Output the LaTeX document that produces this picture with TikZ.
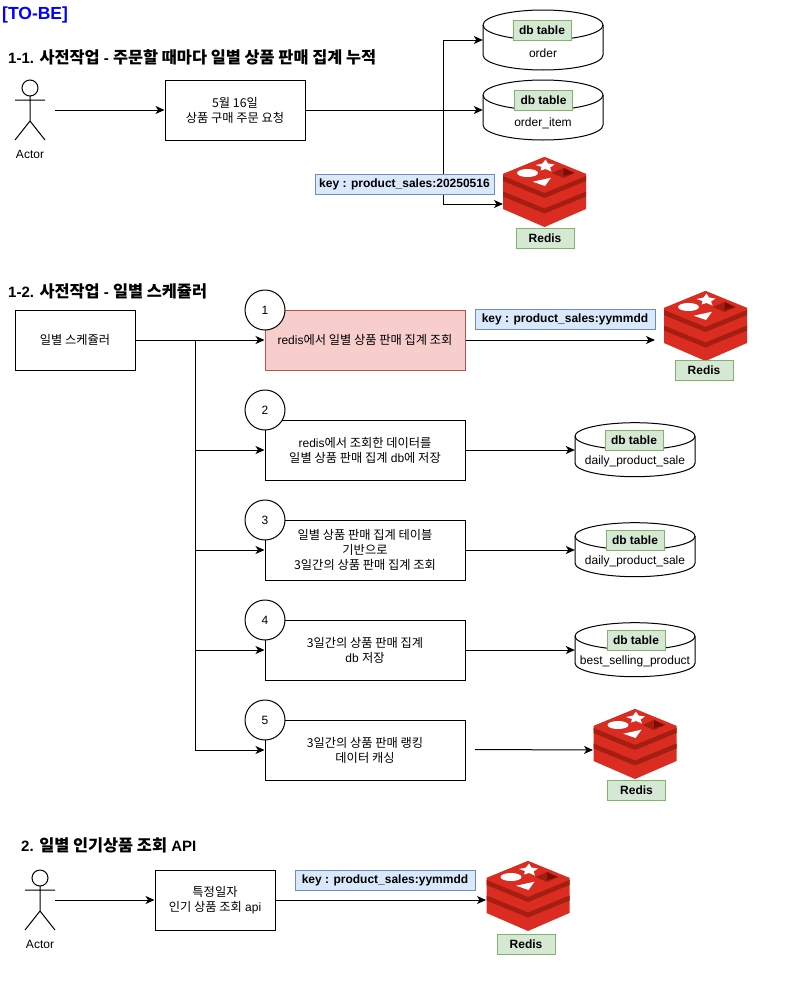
\documentclass[tikz,border=0pt]{standalone}
\usepackage{fontspec}
\setmainfont{Liberation Sans}
\newfontfamily\cjk[Scale=1.02]{Noto Sans CJK KR}
\newfontfamily\cjkhead[Scale=1.09]{Noto Sans CJK KR}
\newcommand{\kr}[1]{{\cjk #1}}
\newcommand{\krhead}[1]{{\cjkhead #1}}
\usetikzlibrary{arrows.meta}

\definecolor{tablefill}{HTML}{D5E8D4}
\definecolor{tableline}{HTML}{82B366}
\definecolor{keyfill}{HTML}{DAE8FC}
\definecolor{keyline}{HTML}{6C8EBF}
\definecolor{hotfill}{HTML}{F8CECC}
\definecolor{hotline}{HTML}{B85450}
\definecolor{redislight}{HTML}{DA2C20}
\definecolor{redisdark}{HTML}{A41E11}
\definecolor{redisdeep}{HTML}{7A0C00}

\tikzset{
    every node/.style={font=\fontsize{12}{15}\selectfont, inner sep=0pt},
    flow/.style={-{Stealth[length=9pt,width=8pt,inset=2.5pt]}, line width=1pt},
    wire/.style={line width=1pt},
    title/.style={anchor=west, font=\fontsize{15}{18}\selectfont\bfseries},
    procbox/.style={draw, line width=1pt, align=center, minimum height=60pt},
    dblabel/.style={draw=tableline, fill=tablefill, line width=1pt, minimum height=20pt, minimum width=58pt, font=\fontsize{12}{15}\selectfont\bfseries},
    keybox/.style={draw=keyline, fill=keyfill, line width=0.8pt, minimum height=20pt, minimum width=180pt, font=\fontsize{12}{15}\selectfont\bfseries},
    stepmark/.style={draw, circle, fill=white, line width=1pt, minimum size=40pt},
    redis/.pic={
        % Solid block, then the dark bands between the slabs
        \fill[redislight] (-41.5,17) -- (0,0) -- (41.5,17) -- (41.5,52) -- (0,70) -- (-41.5,52) -- cycle;
        \foreach \d in {0,15.5} {
            \fill[redisdark] (-41.5,19+\d) -- (0,36+\d) -- (41.5,19+\d) -- (41.5,24+\d) -- (0,41+\d) -- (-41.5,24+\d) -- cycle;
        }
        \fill[redislight] (-41.5,17) -- (0,0) -- (41.5,17) -- (0,34.5) -- cycle;
        % Marks on the top face
        \fill[white] (1,2.5) -- (3.5,6.5) -- (10,7.5) -- (5.5,10.5) -- (7,14.5) -- (1,12) -- (-4,13.5) -- (-3,10) -- (-9,8) -- (-2,6.5) -- cycle;
        \fill[white] (-17,16) ellipse[x radius=10.5pt, y radius=4pt];
        \fill[white] (-11.8,24.7) -- (6.5,20.7) -- (0.5,29) -- cycle;
        \fill[redisdark] (7.3,16) -- (19,11) -- (30.7,16) -- (19,21) -- cycle;
        \fill[redisdeep] (19,11) -- (29,16) -- (19,19) -- cycle;
    },
    stickman/.pic={
        \draw[line width=1pt] (0,-22) circle[radius=8pt];
        \draw[line width=1pt] (0,-14) -- (0,11) (-15,-10) -- (15,-10) (-15,30) -- (0,11) -- (15,30);
    }
}

% #1 name, #2 centre, #3 half height, #4 ellipse height
\newcommand{\dbcyl}[4]{
    \node[minimum width=120pt, minimum height=2*#3 pt] (#1) at (#2) {};
    \draw[line width=1pt, fill=white, shift={(#2)}]
        (-60,-#3+#4) -- (-60,#3-#4) arc[start angle=180, end angle=360, x radius=60pt, y radius=#4 pt]
        -- (60,-#3+#4) arc[start angle=0, end angle=180, x radius=60pt, y radius=#4 pt] -- cycle;
    \draw[line width=1pt, shift={(#2)}] (-60,-#3+#4) arc[start angle=180, end angle=360, x radius=60pt, y radius=#4 pt];
}

\begin{document}
\begin{tikzpicture}[x=1pt, y=-1pt]
    \useasboundingbox (0,0) rectangle (803,985);

    % Titles
    \node[anchor=west, text=blue, font=\fontsize{17.5}{20}\selectfont\bfseries] (tobe) at (2,15) {[TO-BE]};
    \node[title] (title1) at (8,57) {1-1. \krhead{사전작업} - \krhead{주문할 때마다 일별 상품 판매 집계 누적}};
    \node[title] (title2) at (8,291) {1-2. \krhead{사전작업} - \krhead{일별 스케쥴러}};
    \node[title] (title3) at (21,845) {2. \krhead{일별 인기상품 조회} API};

    % 1-1 order request
    \pic at (30,110) {stickman};
    \node (actor1) at (30,154) {Actor};
    \coordinate (actor1out) at (55,110);
    \node[procbox, minimum width=140pt] (request) at (235,110) {\kr{5월 16일}\\\kr{상품 구매 주문 요청}};
    \dbcyl{order}{543,40}{30}{15}
    \node[dblabel] (orderlabel) at (542,30) {db table};
    \node (ordertext) at (543,53) {order};
    \dbcyl{orderitem}{543,110}{30}{15}
    \node[dblabel] (itemlabel) at (543.5,100) {db table};
    \node (itemtext) at (543,123) {order\_item};
    \pic at (544.5,157) {redis};
    \coordinate (redis1) at (503,204);
    \node[dblabel] (redis1label) at (545,238) {Redis};
    \coordinate (branch) at (443,110);

    \draw[flow] (actor1out) -- (request.west |- actor1out);
    \draw[flow] (request.east) -- (orderitem.west);
    \draw[flow] (branch) |- (order.west);
    \draw[flow] (branch) |- (redis1);
    \node[keybox, minimum width=179pt] (key1) at (404.5,184.5) {key : product\_sales:20250516};

    % 1-2 daily scheduler
    \node[procbox, minimum width=120pt] (scheduler) at (75,340) {\kr{일별 스케쥴러}};
    \node[procbox, minimum width=200pt, fill=hotfill, draw=hotline] (step1) at (365,340) {redis\kr{에서 일별 상품 판매 집계 조회}};
    \node[procbox, minimum width=200pt] (step2) at (365,450) {redis\kr{에서 조회한 데이터를}\\\kr{일별 상품 판매 집계} db\kr{에 저장}};
    \node[procbox, minimum width=200pt] (step3) at (365,550) {\kr{일별 상품 판매 집계 테이블}\\\kr{기반으로}\\\kr{3일간의 상품 판매 집계 조회}};
    \node[procbox, minimum width=200pt] (step4) at (365,650) {\kr{3일간의 상품 판매 집계}\\db \kr{저장}};
    \node[procbox, minimum width=200pt] (step5) at (365,750) {\kr{3일간의 상품 판매 랭킹}\\\kr{데이터 캐싱}};

    \coordinate (bus) at (195,340);
    \draw[flow] (scheduler.east) -- (step1.west);
    \foreach \n in {2,3,4,5} {
        \draw[wire] (bus) -- (bus |- step\n.west);
        \draw[flow] (bus |- step\n.west) -- (step\n.west);
    }

    % Step numbers
    \foreach \n/\y in {1/310,2/410,3/520,4/620,5/720} {
        \node[stepmark] (mark\n) at (265,\y) {\n};
    }

    % 1-2 targets
    \node[keybox] (key2) at (565,319.5) {key : product\_sales:yymmdd};
    \pic at (705.5,291) {redis};
    \coordinate (redis2) at (655,340);
    \node[dblabel] (redis2label) at (704,370) {Redis};
    \draw[flow] (step1.east) -- (redis2);

    \dbcyl{daily1}{635,449.7}{27}{13.5}
    \node[dblabel] (daily1label) at (634,440.3) {db table};
    \node (daily1text) at (635,461.5) {daily\_product\_sale};
    \dbcyl{daily2}{635,549.7}{27}{13.5}
    \node[dblabel] (daily2label) at (635,540.3) {db table};
    \node (daily2text) at (635,561.5) {daily\_product\_sale};
    \dbcyl{best}{635,649.7}{27}{13.5}
    \node[dblabel] (bestlabel) at (636,640) {db table};
    \node (besttext) at (635,661.5) {best\_selling\_product};
    \draw[flow] (step2.east) -- (step2.east -| daily1.west);
    \draw[flow] (step3.east) -- (step3.east -| daily2.west);
    \draw[flow] (step4.east) -- (step4.east -| best.west);

    \coordinate (step5out) at (475,749.5);
    \coordinate (redis3) at (593,750);
    \pic at (635,709) {redis};
    \node[dblabel] (redis3label) at (636.5,790) {Redis};
    \draw[flow] (step5out) -- (redis3);

    % 2 popular products api
    \pic at (40,900) {stickman};
    \node (actor2) at (40,944) {Actor};
    \coordinate (actor2out) at (55,900);
    \node[procbox, minimum width=120pt] (api) at (215,900) {\kr{특정일자}\\\kr{인기 상품 조회} api};
    \node[keybox] (key3) at (385,880) {key : product\_sales:yymmdd};
    \pic at (528,861) {redis};
    \coordinate (redis4) at (486,900);
    \node[dblabel] (redis4label) at (526,944) {Redis};
    \draw[flow] (actor2out) -- (api.west |- actor2out);
    \draw[flow] (api.east) -- (redis4);
\end{tikzpicture}
\end{document}
